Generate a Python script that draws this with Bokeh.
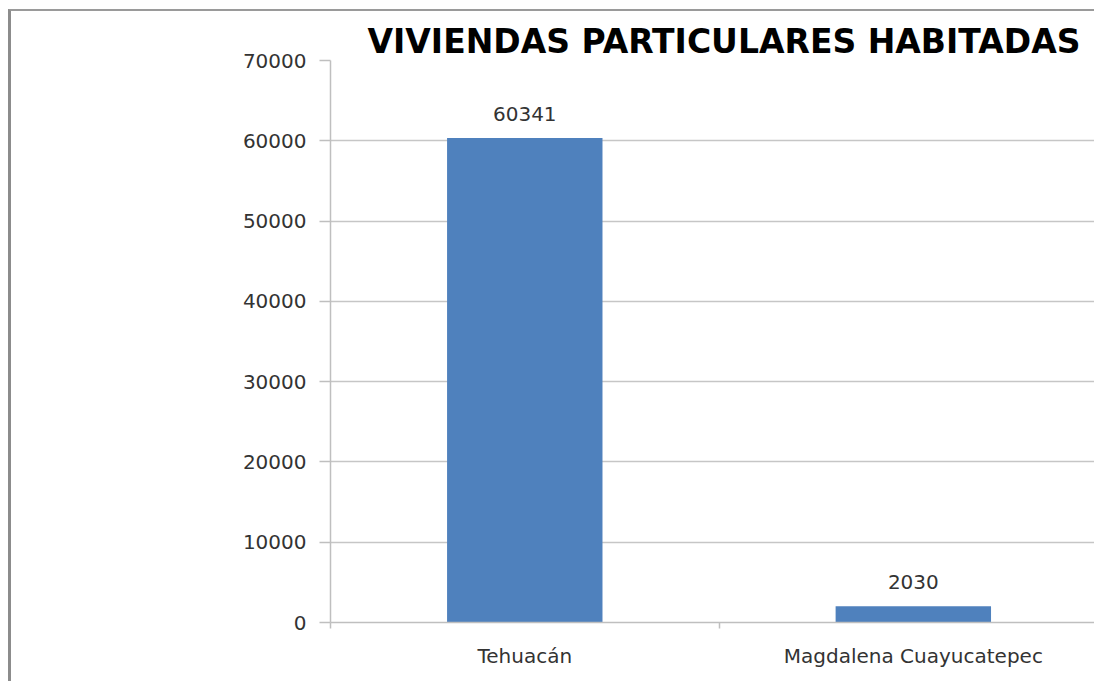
from bokeh.plotting import figure
from bokeh.models import Range1d, FixedTicker, SingleIntervalTicker, NumeralTickFormatter, ColumnDataSource
from bokeh.core.properties import value
from bokeh.embed import file_html
from bokeh.resources import INLINE

# ---- data ----
categories = ["Tehuacán", "Magdalena Cuayucatepec"]
viviendas = [60341, 2030]
bar_labels = ["60341", "2030"]
title_text = "VIVIENDAS PARTICULARES HABITADAS"
y_max = 70000
y_step = 10000

xs = [i + 0.5 for i in range(len(categories))]
src = ColumnDataSource(dict(x=xs, top=viviendas, label=bar_labels, cat=categories))

FONT = "DejaVu Sans"

p = figure(width=1086, height=672, output_backend="svg", toolbar_location=None,
           x_range=Range1d(0, 1.974), y_range=Range1d(0, y_max),
           min_border_left=319, min_border_right=0, min_border_top=49, min_border_bottom=61)
p.styles = {"margin-left": "8px", "margin-top": "9px",
            "border-left": "3px solid #8c8c8c", "border-top": "2px solid #9a9a9a"}
p.outline_line_color = None
p.background_fill_color = "white"
p.border_fill_color = "white"

p.title.text = title_text
p.title.align = "left"
p.title.offset = 37
p.title.standoff = 0
p.title.text_font = "DejaVu Sans"
p.title.text_font_style = "bold"
p.title.text_font_size = "33px"
p.title.text_color = "black"

p.vbar(x="x", top="top", width=0.4, bottom=0, source=src, fill_color="#4F81BD", line_color=None)
p.text(x="x", y="top", text="label", source=src, text_align="center", text_baseline="alphabetic",
       y_offset=-24, text_font=value(FONT), text_font_size="20px", text_color="#333333")

# y axis
p.yaxis.ticker = SingleIntervalTicker(interval=y_step, num_minor_ticks=0)
p.yaxis.formatter = NumeralTickFormatter(format="0")
p.yaxis.axis_line_color = "#bfbfbf"
p.yaxis.axis_line_width = 1.5
p.yaxis.major_tick_line_color = "#bfbfbf"
p.yaxis.major_tick_line_width = 1.5
p.yaxis.major_tick_out = 11
p.yaxis.major_tick_in = 0
p.yaxis.minor_tick_line_color = None
p.yaxis.major_label_standoff = 13
p.yaxis.major_label_text_font = FONT
p.yaxis.major_label_text_font_size = "20px"
p.yaxis.major_label_text_color = "#333333"

# x axis
p.xaxis.ticker = FixedTicker(ticks=xs, minor_ticks=[float(i) for i in range(len(categories) + 1)])
p.xaxis.major_label_overrides = {x: c for x, c in zip(xs, categories)}
p.xaxis.axis_line_color = "#bfbfbf"
p.xaxis.axis_line_width = 1.5
p.xaxis.major_tick_line_color = None
p.xaxis.minor_tick_line_color = "#bfbfbf"
p.xaxis.minor_tick_line_width = 1.5
p.xaxis.minor_tick_out = 6
p.xaxis.minor_tick_in = 0
p.xaxis.major_label_standoff = 15
p.xaxis.major_label_text_font = FONT
p.xaxis.major_label_text_font_size = "20px"
p.xaxis.major_label_text_color = "#333333"

p.xgrid.grid_line_color = None
p.ygrid.grid_line_color = "#c6c6c6"
p.ygrid.grid_line_width = 1.5

open("out.html", "w").write(file_html(p, INLINE))
